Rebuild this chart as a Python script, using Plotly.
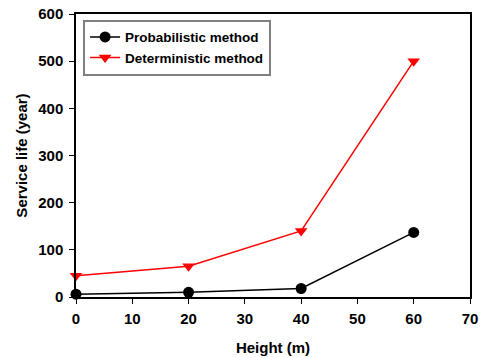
import plotly.graph_objects as go

heights = [0, 20, 40, 60]
prob_life = [6, 10, 18, 137]
det_life = [45, 65, 140, 500]

font_family = "Liberation Sans, Arial, sans-serif"

fig = go.Figure()
fig.add_trace(go.Scatter(
    x=heights, y=prob_life, mode="lines+markers", name="Probabilistic method",
    line=dict(color="black", width=1.5),
    marker=dict(symbol="circle", size=11, color="black"),
    cliponaxis=False,
))
fig.add_trace(go.Scatter(
    x=heights, y=det_life, mode="lines+markers", name="Deterministic method",
    line=dict(color="#ff0000", width=1.5),
    marker=dict(symbol="triangle-down", size=11, color="#ff0000"),
    cliponaxis=False,
))

fig.update_layout(
    width=483, height=358,
    margin=dict(l=76, r=13, t=14, b=61),
    paper_bgcolor="white", plot_bgcolor="white",
    font=dict(family=font_family, size=15, color="black"),
    showlegend=True,
    legend=dict(
        x=0.018, y=0.98, xanchor="left", yanchor="top",
        bgcolor="white", bordercolor="#808080", borderwidth=2,
        font=dict(family=font_family, size=13.5, color="black", weight="bold"),
        itemwidth=30, tracegroupgap=0,
    ),
)
fig.update_xaxes(
    range=[0, 70], dtick=10, tick0=0, automargin=False,
    showline=True, linecolor="black", linewidth=1.5, mirror=True,
    ticks="outside", ticklen=5, tickcolor="black", tickwidth=1,
    showgrid=False, zeroline=False,
    tickfont=dict(size=15, weight="bold"), ticklabelstandoff=2,
    title=dict(text="Height (m)", font=dict(size=15, weight="bold"), standoff=17),
)
fig.update_yaxes(
    range=[0, 600], dtick=100, tick0=0, automargin=False,
    showline=True, linecolor="black", linewidth=1.5, mirror=True,
    ticks="outside", ticklen=5, tickcolor="black", tickwidth=1,
    showgrid=False, zeroline=False,
    tickfont=dict(size=15, weight="bold"), ticklabelstandoff=3,
    title=dict(text="Service life (year)", font=dict(size=15, weight="bold"), standoff=7),
)

fig.write_html("out.html")
